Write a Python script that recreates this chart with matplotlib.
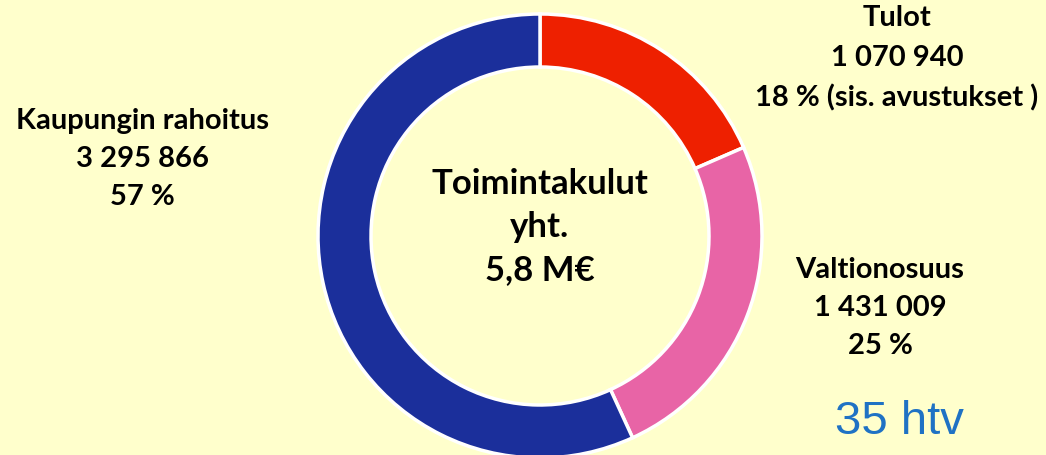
import matplotlib.pyplot as plt

# data
labels = ["Tulot", "Valtionosuus", "Kaupungin rahoitus"]
values = [1070940, 1431009, 3295866]
amounts = ["1 070 940", "1 431 009", "3 295 866"]
percents = ["18 % (sis. avustukset )", "25 %", "57 %"]
colors = ["#EE2000", "#E864A6", "#1B2F9B"]

bg = "#FFFFCC"
W, H = 1046, 456

fig = plt.figure(figsize=(W / 100, H / 100), dpi=100, facecolor=bg)
ax = fig.add_axes([0, 0, 1, 1])
ax.set_facecolor(bg)

cx, cy, r = 540, H - 237, 222
ax.pie(values, colors=colors, startangle=90, counterclock=False,
       center=(cx, cy), radius=r, frame=True,
       wedgeprops=dict(width=53, edgecolor="white", linewidth=2.5))
ax.set_xlim(0, W)
ax.set_ylim(0, H)
ax.set_aspect("equal")
ax.axis("off")

font = dict(family="Lato", weight="bold", color="black", ha="center", va="center")

# label blocks: (x, top line y in pixels from top, line gap)
spots = [(897, 18, 40), (880, 270, 38), (142, 121, 38)]
for i, (x, y0, gap) in enumerate(spots):
    lines = [labels[i], amounts[i], percents[i]]
    for j, t in enumerate(lines):
        ax.text(x, H - (y0 + j * gap), t, fontsize=21, **font)

# center text
for j, t in enumerate(["Toimintakulut", "yht.", "5,8 M€"]):
    ax.text(cx, H - (184 + j * 43), t, fontsize=25, **font)

ax.text(899, H - 422, "35 htv", fontsize=34, family="Liberation Sans",
        color="#1F72C4", ha="center", va="center")

fig.savefig("out.png", dpi=100, facecolor=bg)
